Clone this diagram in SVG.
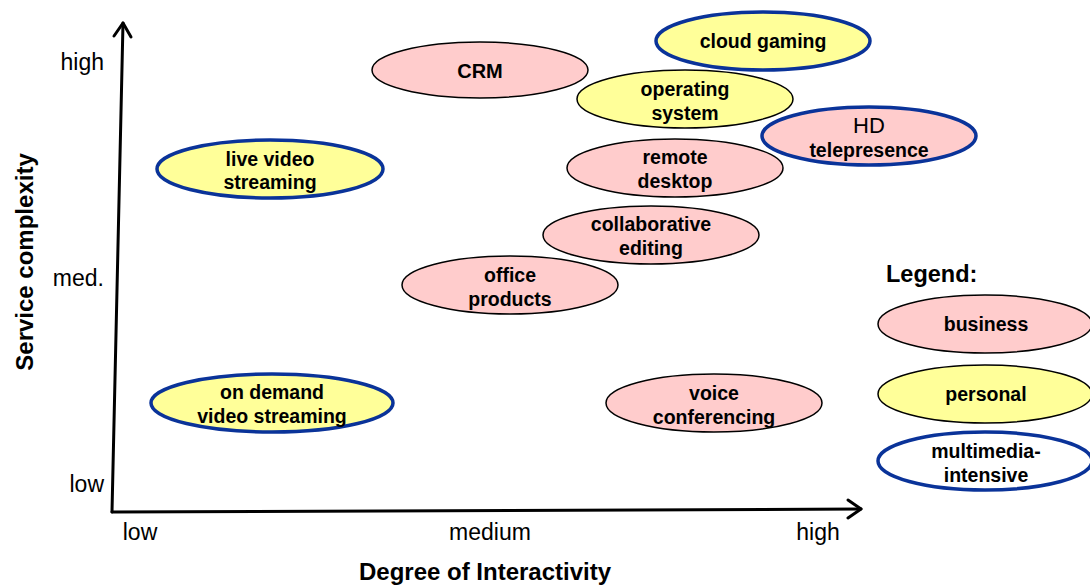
<svg xmlns="http://www.w3.org/2000/svg" width="1090" height="587" viewBox="0 0 1090 587">
<style>
text{font-family:"Liberation Sans",Arial,sans-serif;fill:#000}
.n{font-size:19.5px;font-weight:bold;text-anchor:middle}
.r{font-size:22px;text-anchor:middle}
.ax{font-size:23px}
.t{font-size:24px;font-weight:bold}
.biz{fill:#FFCCCC;stroke:#000;stroke-width:1.5}
.per{fill:#FFFF99;stroke:#000;stroke-width:1.5}
.mm{stroke:#0A3399;stroke-width:3.5}
.axis{stroke:#000;stroke-width:3;fill:none;stroke-linecap:round;stroke-linejoin:round}
</style>
<rect width="1090" height="587" fill="#fff"/>
<g id="connectors">
<path class="axis" d="M112 512 L123 23"/>
<path class="axis" d="M114 36 L123 23 L131 37"/>
<path class="axis" d="M112 512 L861 509"/>
<path class="axis" d="M848 500 L861 509 L848 518"/>
</g>
<g id="axis-labels">
<text class="ax" x="104" y="70" text-anchor="end">high</text>
<text class="ax" x="104" y="286" text-anchor="end">med.</text>
<text class="ax" x="104" y="492" text-anchor="end">low</text>
<text class="ax" x="140" y="540" text-anchor="middle">low</text>
<text class="ax" x="490" y="540" text-anchor="middle">medium</text>
<text class="ax" x="818" y="540" text-anchor="middle">high</text>
<text class="t" x="485" y="580" text-anchor="middle">Degree of Interactivity</text>
<text class="t" x="33" y="262" text-anchor="middle" transform="rotate(-90 33 262)">Service complexity</text>
</g>
<g id="crm"><ellipse class="biz" cx="480" cy="70" rx="108" ry="28"/><text class="n" x="480" y="78" style="font-size:20px">CRM</text></g>
<g id="cloud-gaming"><ellipse class="per mm" cx="763" cy="41" rx="107" ry="29"/><text class="n" x="763" y="48">cloud gaming</text></g>
<g id="operating-system"><ellipse class="per" cx="685" cy="99" rx="108" ry="29"/><text class="n" x="685" y="96">operating</text><text class="n" x="685" y="120">system</text></g>
<g id="hd-telepresence"><ellipse class="biz mm" cx="869" cy="136" rx="107" ry="29"/><text class="r" x="869" y="133">HD</text><text class="n" x="869" y="157">telepresence</text></g>
<g id="remote-desktop"><ellipse class="biz" cx="675" cy="168" rx="108" ry="29"/><text class="n" x="675" y="164">remote</text><text class="n" x="675" y="188">desktop</text></g>
<g id="collaborative-editing"><ellipse class="biz" cx="651" cy="235" rx="108" ry="29"/><text class="n" x="651" y="231">collaborative</text><text class="n" x="651" y="255">editing</text></g>
<g id="office-products"><ellipse class="biz" cx="510" cy="285" rx="108" ry="29"/><text class="n" x="510" y="282">office</text><text class="n" x="510" y="306">products</text></g>
<g id="live-video-streaming"><ellipse class="per mm" cx="270" cy="169" rx="113" ry="29"/><text class="n" x="270" y="166">live video</text><text class="n" x="270" y="189">streaming</text></g>
<g id="on-demand-video-streaming"><ellipse class="per mm" cx="272" cy="403" rx="121" ry="29"/><text class="n" x="272" y="399">on demand</text><text class="n" x="272" y="423">video streaming</text></g>
<g id="voice-conferencing"><ellipse class="biz" cx="714" cy="403" rx="108" ry="29"/><text class="n" x="714" y="400">voice</text><text class="n" x="714" y="424">conferencing</text></g>
<g id="legend">
<text class="t" x="886" y="282" style="font-size:23.5px">Legend:</text>
<ellipse class="biz" cx="985" cy="324" rx="107" ry="29"/><text class="n" x="986" y="331">business</text>
<ellipse class="per" cx="985" cy="394" rx="107" ry="29"/><text class="n" x="986" y="401">personal</text>
<ellipse class="mm" fill="#fff" cx="985" cy="461" rx="107" ry="29"/><text class="n" x="986" y="458">multimedia-</text><text class="n" x="986" y="482">intensive</text>
</g>
</svg>
